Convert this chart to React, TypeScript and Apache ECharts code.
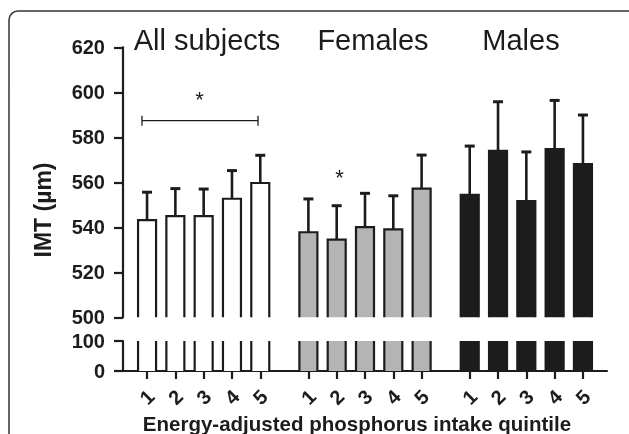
import React, { useEffect, useRef } from "react";
import * as echarts from "echarts";

// ---- data ----
const groups = ["All subjects", "Females", "Males"];
const quintiles = ["1", "2", "3", "4", "5"];
const allMean = [543.2, 545.0, 545.0, 552.7, 559.7];
const allErr = [12.4, 12.2, 12.0, 12.5, 12.3];
const femaleMean = [537.8, 534.5, 540.1, 539.1, 557.2];
const femaleErr = [14.8, 15.1, 15.0, 14.9, 14.9];
const maleMean = [554.4, 574.0, 551.6, 574.8, 568.1];
const maleErr = [21.7, 21.8, 21.9, 21.6, 21.8];
const yTopTicks = [500, 520, 540, 560, 580, 600, 620];
const yBottomTicks = [0, 100];
// significance: bracket over all-subjects quintiles 1..5 and star over females quintile 2
const bracketValue = 587.4;
const bracketStarValue = 597;
const femaleStarValue = 562;

const FONT = "'Liberation Sans', Arial, Helvetica, sans-serif";
const INK = "#1c1c1c";
const fills = ["#ffffff", "#b4b4b4", "#1c1c1c"];
const means = [allMean, femaleMean, maleMean];
const errs = [allErr, femaleErr, maleErr];
const GROUP_STRIDE = 5.7;

const pos = (g: number, q: number) => g * GROUP_STRIDE + q + 1;

const barData: number[][] = [];
groups.forEach((_, g) => {
  quintiles.forEach((_, q) => {
    barData.push([pos(g, q), means[g][q], means[g][q] + errs[g][q], g]);
  });
});
const positions = barData.map((d) => d[0]);

export default function App() {
  const ref = useRef<HTMLDivElement>(null);
  useEffect(() => {
    const chart = echarts.init(ref.current!, null, { renderer: "svg" });
    const HALF = 9;
    const topBars = (params: any, api: any) => {
      const x = api.value(0);
      const m = api.value(1);
      const e = api.value(2);
      const g = api.value(3);
      const top = api.coord([x, m]);
      const base = api.coord([x, 500]);
      const et = api.coord([x, e]);
      const cx = top[0];
      return {
        type: "group",
        children: [
          {
            type: "rect",
            shape: { x: cx - HALF, y: top[1], width: HALF * 2, height: base[1] - top[1] },
            style: { fill: fills[g], stroke: null },
          },
          {
            type: "polyline",
            shape: { points: [[cx - HALF, base[1]], [cx - HALF, top[1]], [cx + HALF, top[1]], [cx + HALF, base[1]]] },
            style: { fill: null, stroke: INK, lineWidth: 2.2 },
          },
          {
            type: "line",
            shape: { x1: cx, y1: top[1], x2: cx, y2: et[1] },
            style: { stroke: INK, lineWidth: 2.6 },
          },
          {
            type: "line",
            shape: { x1: cx - 5, y1: et[1], x2: cx + 5, y2: et[1] },
            style: { stroke: INK, lineWidth: 3 },
          },
        ],
      };
    };
    const bottomBars = (params: any, api: any) => {
      const x = api.value(0);
      const g = api.value(3);
      const top = api.coord([x, 100]);
      const base = api.coord([x, 0]);
      const cx = top[0];
      return {
        type: "group",
        children: [
          {
            type: "rect",
            shape: { x: cx - HALF, y: top[1], width: HALF * 2, height: base[1] - top[1] },
            style: { fill: fills[g], stroke: null },
          },
          {
            type: "line",
            shape: { x1: cx - HALF, y1: top[1], x2: cx - HALF, y2: base[1] },
            style: { stroke: INK, lineWidth: 2.2 },
          },
          {
            type: "line",
            shape: { x1: cx + HALF, y1: top[1], x2: cx + HALF, y2: base[1] },
            style: { stroke: INK, lineWidth: 2.2 },
          },
        ],
      };
    };
    const bracket = (params: any, api: any) => {
      const a = api.coord([api.value(0), api.value(2)]);
      const b = api.coord([api.value(1), api.value(2)]);
      return {
        type: "group",
        children: [
          { type: "line", shape: { x1: a[0], y1: a[1], x2: b[0], y2: b[1] }, style: { stroke: INK, lineWidth: 1.3 } },
          { type: "line", shape: { x1: a[0], y1: a[1] - 5, x2: a[0], y2: a[1] + 5 }, style: { stroke: INK, lineWidth: 1.3 } },
          { type: "line", shape: { x1: b[0], y1: b[1] - 5, x2: b[0], y2: b[1] + 5 }, style: { stroke: INK, lineWidth: 1.3 } },
        ],
      };
    };
    const star = (params: any, api: any) => {
      const p = api.coord([api.value(0), api.value(1)]);
      return {
        type: "text",
        x: p[0],
        y: p[1],
        style: { text: "*", fill: INK, font: `22px ${FONT}`, align: "center", verticalAlign: "middle" },
      };
    };

    const xRange = { min: 0.15, max: 17.25 };
    const axisLineStyle = { color: INK, width: 2.2 };
    chart.setOption({
      animation: false,
      grid: [
        { left: 123, top: 47.3, height: 270, width: 484 },
        { left: 123, top: 341, height: 30, width: 484 },
      ],
      xAxis: [
        { type: "value", gridIndex: 0, ...xRange, show: false },
        {
          type: "value",
          gridIndex: 1,
          ...xRange,
          axisLine: { show: true, lineStyle: axisLineStyle },
          axisTick: { show: true, length: 8, lineStyle: { color: INK, width: 2.2 }, customValues: positions },
          axisLabel: {
            customValues: positions,
            rotate: 45,
            align: "center",
            verticalAlign: "middle",
            margin: 26,
            fontFamily: FONT,
            fontWeight: "bold",
            fontSize: 20,
            color: INK,
            formatter: (v: number) => {
              let best = 0;
              positions.forEach((p, i) => {
                if (Math.abs(p - v) < Math.abs(positions[best] - v)) best = i;
              });
              return quintiles[best % quintiles.length];
            },
          },
          splitLine: { show: false },
        },
      ],
      yAxis: [
        {
          type: "value",
          gridIndex: 0,
          min: yTopTicks[0],
          max: yTopTicks[yTopTicks.length - 1],
          interval: 20,
          axisLine: { show: true, lineStyle: axisLineStyle },
          axisTick: { show: true, length: 9, lineStyle: { color: INK, width: 2.2 } },
          axisLabel: { margin: 18, fontFamily: FONT, fontWeight: "bold", fontSize: 20, color: INK },
          splitLine: { show: false },
        },
        {
          type: "value",
          gridIndex: 1,
          min: yBottomTicks[0],
          max: yBottomTicks[1],
          interval: 100,
          axisLine: { show: true, lineStyle: axisLineStyle },
          axisTick: { show: true, length: 9, lineStyle: { color: INK, width: 2.2 } },
          axisLabel: { margin: 18, fontFamily: FONT, fontWeight: "bold", fontSize: 20, color: INK },
          splitLine: { show: false },
        },
      ],
      series: [
        { type: "custom", xAxisIndex: 0, yAxisIndex: 0, data: barData, renderItem: topBars, clip: false },
        { type: "custom", xAxisIndex: 1, yAxisIndex: 1, data: barData, renderItem: bottomBars, clip: false },
        {
          type: "custom",
          xAxisIndex: 0,
          yAxisIndex: 0,
          data: [[pos(0, 0) - 0.18, pos(0, 4) - 0.08, bracketValue]],
          renderItem: bracket,
        },
        {
          type: "custom",
          xAxisIndex: 0,
          yAxisIndex: 0,
          data: [
            [(pos(0, 0) + pos(0, 4)) / 2 - 0.15, bracketStarValue],
            [pos(1, 1) + 0.1, femaleStarValue],
          ],
          renderItem: star,
        },
      ],
      graphic: [
        {
          type: "rect",
          shape: { x: 9, y: 11, width: 630, height: 450, r: 9 },
          style: { fill: null, stroke: "#333", lineWidth: 1.5 },
          z: -1,
        },
        {
          type: "text",
          x: 207,
          y: 40,
          style: { text: groups[0], font: `29px ${FONT}`, fill: INK, align: "center", verticalAlign: "middle" },
        },
        {
          type: "text",
          x: 373,
          y: 40,
          style: { text: groups[1], font: `29px ${FONT}`, fill: INK, align: "center", verticalAlign: "middle" },
        },
        {
          type: "text",
          x: 521,
          y: 40,
          style: { text: groups[2], font: `29px ${FONT}`, fill: INK, align: "center", verticalAlign: "middle" },
        },
        {
          type: "text",
          x: 43,
          y: 210,
          rotation: Math.PI / 2,
          style: { text: "IMT (µm)", font: `bold 23px ${FONT}`, fill: INK, align: "center", verticalAlign: "middle" },
        },
        {
          type: "text",
          x: 357,
          y: 423,
          style: {
            text: "Energy-adjusted phosphorus intake quintile",
            font: `bold 20.5px ${FONT}`,
            fill: INK,
            align: "center",
            verticalAlign: "middle",
          },
        },
      ],
    });
    return () => chart.dispose();
  }, []);
  return <div ref={ref} style={{ position: "fixed", left: 0, top: 0, width: 629, height: 434 }} />;
}
